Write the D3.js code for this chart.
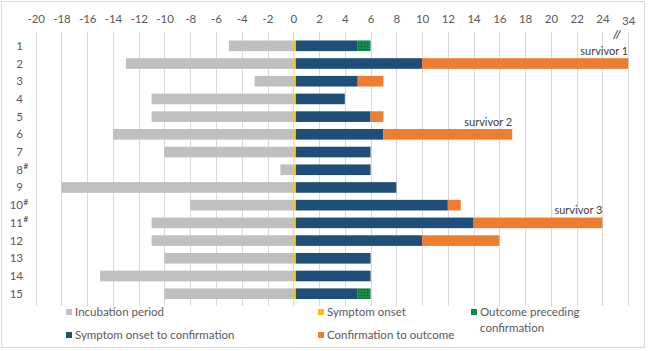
<!DOCTYPE html>
<html>
<head>
<meta charset="utf-8">
<script src="https://cdn.jsdelivr.net/npm/d3@7"></script>
<style>
  body { margin: 0; background: #fff; }
  svg text { font-family: Lato, "Open Sans", sans-serif; fill: #595959; }
</style>
</head>
<body>
<div id="chart"></div>
<script>
// cases, # = flagged in the source table
var cases = ['1','2','3','4','5','6','7','8','9','10','11','12','13','14','15']
var flagged = ['8','10','11']

// days, relative to symptom onset
var incubation = [-5,-13,-3,-11,-11,-14,-10,-1,-18,-8,-11,-11,-10,-15,-10]
var onsetToConfirmation = [5,10,5,4,6,7,6,6,8,12,14,10,6,6,5]
var confirmationToOutcome = [0,24,2,0,1,10,0,0,0,1,10,6,0,0,0]
var outcomePreceding = [1,0,0,0,0,0,0,0,0,0,0,0,0,0,1]

var survivors = [{caseId: '2', label: 'survivor 1'}, {caseId: '6', label: 'survivor 2'}, {caseId: '11', label: 'survivor 3'}]

var tickValues = [-20,-18,-16,-14,-12,-10,-8,-6,-4,-2,0,2,4,6,8,10,12,14,16,18,20,22,24,34]

var onsetMark = 0.2 // width of the yellow onset tick, in days

var colors = {
  incubation: '#bfbfbf',
  onset: '#ffc000',
  confirm: '#1f4e79',
  outcome: '#ed7d31',
  preceding: '#118a4a'
}

var width = 650, height = 351

var svg = d3.select('#chart').append('svg')
  .attr('width', width)
  .attr('height', height)

svg.append('rect')
  .attr('x', 1.5).attr('y', 1.5)
  .attr('width', 643).attr('height', 346)
  .attr('fill', '#fff')
  .attr('stroke', '#d9d9d9')

// dotted fill for the green segment
var pat = svg.append('defs').append('pattern')
  .attr('id', 'dots')
  .attr('patternUnits', 'userSpaceOnUse')
  .attr('width', 3).attr('height', 3)
pat.append('rect').attr('width', 3).attr('height', 3).attr('fill', colors.preceding)
pat.append('rect').attr('x', 1).attr('y', 1).attr('width', 1).attr('height', 1).attr('fill', '#0a5c30')

// axis is broken between 24 and 34
var x = d3.scaleLinear()
  .domain([-20, 24, 34])
  .range([35.7, 602.4, 628.2])

var y = d3.scaleBand()
  .domain(cases)
  .range([33.4, 306.1])
  .padding(0.4)

// gridlines
svg.append('g')
  .selectAll('line')
  .data(tickValues)
  .join('line')
  .attr('x1', function(d){ return Math.round(x(d)) + 0.5 })
  .attr('x2', function(d){ return Math.round(x(d)) + 0.5 })
  .attr('y1', 32)
  .attr('y2', 306)
  .attr('stroke', '#d9d9d9')

// top tick labels
var xAxis = svg.append('g')
  .attr('transform', 'translate(0,22.5)')
  .call(d3.axisTop(x).tickValues(tickValues).tickSize(0).tickPadding(0).tickFormat(function(d){ return d }))
xAxis.select('.domain').remove()
xAxis.selectAll('text')
  .attr('font-size', 11.5)
  .attr('font-family', null)
  .attr('fill', null)
  .attr('dy', function(d){ return d == 34 ? 2 : 0 })

// break marks
svg.append('text')
  .attr('x', 617).attr('y', 38)
  .attr('text-anchor', 'middle')
  .attr('font-size', 12)
  .attr('font-weight', 'bold')
  .attr('font-style', 'italic')
  .text('//')

// row labels
var rowLabels = svg.append('g')
rowLabels.selectAll('text.case')
  .data(cases)
  .join('text')
  .attr('class', 'case')
  .attr('x', 23)
  .attr('y', function(d){ return y(d) + y.bandwidth() / 2 + 4 })
  .attr('text-anchor', 'end')
  .attr('font-size', 11.5)
  .text(function(d){ return d })
rowLabels.selectAll('text.flag')
  .data(flagged)
  .join('text')
  .attr('class', 'flag')
  .attr('x', 23.5)
  .attr('y', function(d){ return y(d) + y.bandwidth() / 2 - 0.5 })
  .attr('font-size', 8)
  .attr('font-weight', 'bold')
  .text('#')

// stacked segments per case
var rows = cases.map(function(c, i){
  var confirmEnd = onsetToConfirmation[i]
  return [
    {caseId: c, from: incubation[i], to: 0, fill: colors.incubation},
    {caseId: c, from: 0, to: onsetMark, fill: colors.onset},
    {caseId: c, from: onsetMark, to: confirmEnd, fill: colors.confirm},
    {caseId: c, from: confirmEnd, to: confirmEnd + confirmationToOutcome[i], fill: colors.outcome},
    {caseId: c, from: confirmEnd, to: confirmEnd + outcomePreceding[i], fill: 'url(#dots)'}
  ]
})
var segs = d3.merge(rows).filter(function(d){ return d.to > d.from })

svg.append('g')
  .selectAll('rect')
  .data(segs)
  .join('rect')
  .attr('x', function(d){ return x(d.from) })
  .attr('width', function(d){ return x(d.to) - x(d.from) })
  .attr('y', function(d){ return y(d.caseId) })
  .attr('height', y.bandwidth())
  .attr('fill', function(d){ return d.fill })

// survivor notes, right aligned to the end of the bar
svg.append('g')
  .selectAll('text')
  .data(survivors)
  .join('text')
  .attr('x', function(d){
    var i = cases.indexOf(d.caseId)
    return x(onsetToConfirmation[i] + confirmationToOutcome[i])
  })
  .attr('y', function(d){ return y(d.caseId) - 3.5 })
  .attr('text-anchor', 'end')
  .attr('font-size', 11)
  .style('fill', '#404040')
  .text(function(d){ return d.label })

// legend
var legendItems = [
  {label: ['Incubation period'], color: colors.incubation, x: 66, y: 312},
  {label: ['Symptom onset'], color: colors.onset, x: 318, y: 312},
  {label: ['Outcome preceding', 'confirmation'], color: colors.preceding, x: 471, y: 312},
  {label: ['Symptom onset to confirmation'], color: colors.confirm, x: 66, y: 335},
  {label: ['Confirmation to outcome'], color: colors.outcome, x: 318, y: 335}
]

var leg = svg.append('g').selectAll('g')
  .data(legendItems)
  .join('g')
  .attr('transform', function(d){ return 'translate(' + d.x + ',' + d.y + ')' })

leg.append('rect')
  .attr('x', 0).attr('y', -3)
  .attr('width', 6).attr('height', 6)
  .attr('fill', function(d){ return d.color })

leg.append('text')
  .attr('x', 9)
  .attr('y', 4)
  .attr('font-size', 11.5)
  .selectAll('tspan')
  .data(function(d){ return d.label })
  .join('tspan')
  .attr('x', 9)
  .attr('dy', function(d, i){ return i == 0 ? 0 : 15.5 })
  .text(function(d){ return d })
</script>
</body>
</html>
